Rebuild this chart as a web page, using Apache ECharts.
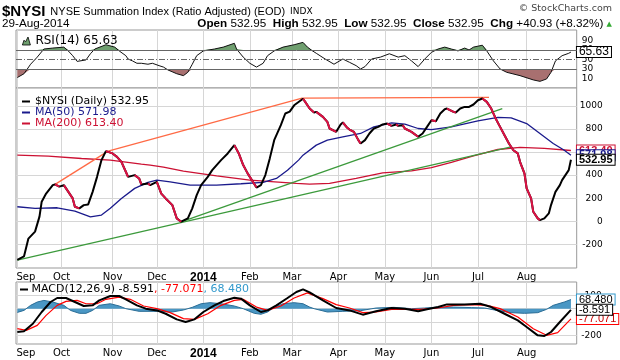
<!DOCTYPE html>
<html><head><meta charset="utf-8">
<script src="https://cdn.jsdelivr.net/npm/echarts@6/dist/echarts.min.js"></script>
<style>html,body{margin:0;padding:0;background:#fff}#c{width:620px;height:360px}</style>
</head><body><div id="c"></div>
<script>
// x = trading-day number since 3-Sep-2013
const monthDays = [0,20,43,63,84,105,124,145,166,187,208,230];
const monthLabels = ['Sep','Oct','Nov','Dec','2014','Feb','Mar','Apr','May','Jun','Jul','Aug'];
const mainTicks = [-200,0,200,400,600,800,1000];
const rsiTicks = [10,30,50,70,90];
const macdTicks = [-200,-100,0,100];

const nysi = [[0,-335],[3,-305],[5,-150],[8,-90],[10,40],[11,170],[13,240],[16,313],[17,320],[19,300],[21,313],[22,285],[25,198],[26,126],[28,112],[30,140],[32,146],[34,255],[36,385],[38,530],[40,608],[43,588],[45,558],[47,515],[49,429],[50,385],[53,400],[55,371],[56,319],[59,328],[60,313],[63,342],[65,240],[67,198],[70,140],[72,25],[74,-4],[77,25],[79,112],[81,227],[83,313],[86,385],[88,443],[90,487],[92,530],[95,588],[98,660],[100,588],[102,487],[104,415],[108,292],[110,313],[112,400],[114,545],[116,703],[119,833],[121,934],[123,950],[125,1005],[129,1062],[130,1035],[132,977],[134,943],[135,948],[138,905],[140,861],[141,804],[144,775],[146,839],[147,856],[149,810],[150,795],[152,775],[154,703],[155,674],[157,703],[159,761],[161,804],[163,818],[165,839],[167,847],[169,827],[171,839],[172,827],[174,833],[175,804],[178,775],[181,732],[183,761],[185,818],[187,876],[189,867],[191,934],[193,971],[194,977],[197,948],[198,943],[200,977],[202,991],[204,991],[206,1012],[208,1049],[210,1064],[212,1035],[214,977],[216,891],[218,818],[220,746],[222,674],[224,616],[226,588],[227,515],[229,415],[230,285],[232,198],[233,82],[235,25],[236,10],[238,25],[240,68],[241,140],[243,255],[245,313],[246,357],[249,443],[250,532.95]];
const ma50 = [[0,126],[8,112],[18,117],[26,88],[33,39],[38,54],[42,112],[47,198],[53,285],[59,337],[63,357],[69,342],[78,313],[90,313],[101,325],[111,337],[117,371],[122,443],[127,530],[129,573],[135,660],[140,703],[147,732],[155,761],[161,818],[169,853],[175,842],[181,804],[187,795],[196,818],[208,870],[217,900],[223,896],[230,847],[236,761],[242,674],[247,616],[250,571.98]];
const ma200 = [[0,573],[14,564],[29,544],[42,530],[56,495],[60,487],[66,469],[75,435],[90,394],[105,357],[126,328],[132,322],[141,328],[153,371],[165,420],[178,437],[187,465],[196,510],[206,567],[217,622],[227,640],[238,631],[250,613.40]];
const resistanceLines = [[[16.5,313],[41,608]],[[41,608],[128.6,1067]],[[128.6,1068],[213,1073]]];
const supportLines = [[[0,-336],[223,645]],[[74.3,-4],[219,977]]];

const rsi = [[0,12],[3,20],[6,40],[9,55],[12,72],[16,74],[21,76],[23,68],[25,58],[27,46],[31,49],[33,62],[35,72],[40,81],[44,76],[46,68],[49,58],[50,51],[52,47],[54,42],[56,42],[59,40],[61,42],[64,37],[66,34],[68,28],[72,20],[75,16],[77,23],[79,40],[81,58],[84,68],[89,72],[93,76],[98,84],[99,72],[102,55],[105,42],[108,34],[111,42],[113,58],[116,68],[120,76],[125,81],[129,86],[131,76],[133,69],[135,63],[139,51],[143,40],[147,51],[150,44],[153,37],[155,30],[157,35],[160,51],[164,55],[168,62],[172,55],[175,58],[178,47],[181,35],[184,51],[187,65],[190,72],[193,76],[196,72],[199,68],[202,74],[204,70],[206,76],[210,80],[212,68],[215,47],[218,30],[221,23],[227,16],[233,7],[236,4],[239,9],[241,23],[243,47],[246,58],[249,63],[250,65.63]];

const macd = [[0,-175],[3,-170],[7,-113],[11,-25],[15,50],[18,80],[22,80],[26,50],[30,20],[34,25],[37,62],[42,95],[46,95],[49,70],[54,25],[58,0],[63,-13],[67,-38],[72,-80],[76,-100],[80,-80],[84,-25],[89,25],[93,57],[98,82],[101,75],[105,25],[110,-25],[113,-13],[117,25],[122,80],[126,125],[129,145],[132,122],[138,62],[144,5],[150,-13],[156,-45],[162,-20],[169,5],[175,0],[181,-20],[185,-5],[190,12],[194,32],[202,32],[209,37],[214,12],[220,-38],[226,-88],[230,-138],[235,-200],[238,-205],[241,-175],[245,-100],[250,-8.591]];
const signal = [[0,-150],[4,-163],[9,-125],[13,-50],[18,25],[22,55],[27,62],[31,37],[36,37],[40,70],[46,87],[51,70],[57,20],[63,0],[69,-30],[75,-75],[80,-80],[86,-38],[92,25],[98,62],[102,70],[108,12],[113,-13],[119,20],[125,80],[131,118],[133,105],[138,75],[144,30],[150,5],[156,-30],[162,-25],[169,-5],[176,-5],[182,-5],[190,5],[197,25],[205,30],[212,25],[218,0],[226,-63],[233,-150],[239,-200],[244,-180],[250,-77.071]];
const histogram = [[0,-28],[3,-13],[6,25],[9,50],[12,62],[16,50],[21,25],[24,-13],[28,-35],[31,-35],[34,-13],[37,25],[42,37],[46,20],[49,0],[55,-20],[63,-20],[70,-25],[75,-10],[79,10],[83,37],[87,45],[92,37],[98,20],[102,0],[107,-35],[110,-42],[113,-25],[116,10],[120,37],[125,45],[129,37],[132,12],[134,0],[140,-25],[147,-20],[155,-15],[162,5],[170,10],[178,0],[184,5],[190,12],[197,12],[205,8],[211,5],[217,-15],[223,-30],[229,-35],[235,-30],[239,-5],[242,25],[247,50],[250,68.48]];

const DJ = 'DejaVu Sans', LS = 'Liberation Sans';
const last = a => a[a.length - 1][1];

function downRuns(pts) {
  const out = [];
  for (let i = 0; i < pts.length - 1; i++) {
    if (pts[i + 1][1] < pts[i][1]) {
      const prev = out[out.length - 1];
      if (!prev || prev[0] !== pts[i][0]) {
        if (prev) out.push([pts[i][0], null]);
        out.push(pts[i]);
      }
      out.push(pts[i + 1]);
    }
  }
  return out;
}

function xAxisCfg(gi, showLabels) {
  return {
    type: 'value', gridIndex: gi, min: -0.6, max: 252.6,
    axisLine: { show: false },
    axisTick: { show: false, customValues: monthDays },
    splitLine: { show: true, lineStyle: { color: '#d6d6d6', width: 1 } },
    axisLabel: {
      show: showLabels, customValues: monthDays, margin: 4,
      fontFamily: DJ, fontSize: 10, color: '#000',
      formatter: v => {
        const i = monthDays.indexOf(v);
        const s = monthLabels[i];
        if (s === '2014') return '{y|2014}';
        if (i === 0) return '{f|' + s + '}';
        return s;
      },
      rich: {
        y: { fontFamily: LS, fontWeight: 'bold', fontSize: 12, color: '#000' },
        f: { fontFamily: DJ, fontSize: 10, color: '#000', padding: [0, 0, 0, 17] }
      }
    }
  };
}
function yLabel(ticks, margin, align) {
  return { customValues: ticks, fontFamily: DJ, fontSize: 9, color: '#000', margin, align, formatter: v => String(v) };
}
function yAxisCfg(gi, min, max, ticks, label, showSplit) {
  return {
    type: 'value', gridIndex: gi, position: 'right', min, max,
    axisLine: { show: false },
    axisTick: { show: false, customValues: ticks },
    splitLine: { show: showSplit, lineStyle: { color: '#d6d6d6', width: 1 } },
    axisLabel: label
  };
}
function endLbl(text, border, color, bold, size) {
  return {
    show: true, distance: 6, formatter: () => text,
    fontFamily: LS, fontSize: size || 11, fontWeight: bold ? 'bold' : 'normal',
    color: color, backgroundColor: '#fff', borderColor: border, borderWidth: 1,
    padding: [0, 2, 0, 2], lineHeight: 10
  };
}
const lineBase = { type: 'line', symbol: 'none', silent: true, animation: false };

const series = [];
// RSI panel
series.push(Object.assign({}, lineBase, {
  name: 'rsiHigh', xAxisIndex: 0, yAxisIndex: 0,
  data: rsi.map(p => [p[0], Math.max(p[1], 70)]),
  lineStyle: { width: 0 }, areaStyle: { origin: 70, color: '#6f9f6f', opacity: 1 }
}));
series.push(Object.assign({}, lineBase, {
  name: 'rsiLow', xAxisIndex: 0, yAxisIndex: 0,
  data: rsi.map(p => [p[0], Math.min(p[1], 30)]),
  lineStyle: { width: 0 }, areaStyle: { origin: 30, color: '#a87070', opacity: 1 }
}));
series.push(Object.assign({}, lineBase, {
  name: 'RSI(14)', xAxisIndex: 0, yAxisIndex: 0, data: rsi, color: '#6f9f6f',
  lineStyle: { color: '#111', width: 1 },
  markLine: {
    silent: true, symbol: 'none', label: { show: false }, animation: false,
    data: [
      { yAxis: 70, lineStyle: { color: '#666', width: 1, type: 'solid' } },
      { yAxis: 30, lineStyle: { color: '#666', width: 1, type: 'solid' } },
      { yAxis: 50, lineStyle: { color: '#666', width: 1, type: [6, 2, 1, 2] } }
    ]
  },
  endLabel: endLbl(last(rsi).toFixed(2), '#000', '#000', false, 12)
}));
// main panel
series.push(Object.assign({}, lineBase, {
  name: 'MA(200)', xAxisIndex: 1, yAxisIndex: 1, data: ma200, color: '#cc1133',
  lineStyle: { color: '#cc1133', width: 1.3 }, endLabel: endLbl(last(ma200).toFixed(2), '#cc1133', '#cc1133', true)
}));
series.push(Object.assign({}, lineBase, {
  name: 'MA(50)', xAxisIndex: 1, yAxisIndex: 1, data: ma50, color: '#1a1a8c',
  lineStyle: { color: '#1a1a8c', width: 1.3 }, endLabel: endLbl(last(ma50).toFixed(2), '#1a1a8c', '#1a1a8c', true)
}));
resistanceLines.forEach((l, i) => series.push(Object.assign({}, lineBase, {
  name: 'res' + i, xAxisIndex: 1, yAxisIndex: 1, data: l, lineStyle: { color: '#ff6a45', width: 1.3 }
})));
supportLines.forEach((l, i) => series.push(Object.assign({}, lineBase, {
  name: 'sup' + i, xAxisIndex: 1, yAxisIndex: 1, data: l, lineStyle: { color: '#3c9a3c', width: 1.3 }
})));
series.push(Object.assign({}, lineBase, {
  name: '$NYSI (Daily)', xAxisIndex: 1, yAxisIndex: 1, data: nysi, color: '#000',
  lineStyle: { color: '#000', width: 2 }, endLabel: endLbl(last(nysi).toFixed(2), '#000', '#000', true)
}));
series.push(Object.assign({}, lineBase, {
  name: 'down', xAxisIndex: 1, yAxisIndex: 1, data: downRuns(nysi), connectNulls: false,
  lineStyle: { color: '#dd1144', width: 2 }
}));
// MACD panel
series.push(Object.assign({}, lineBase, {
  name: 'hist', xAxisIndex: 2, yAxisIndex: 2, data: histogram,
  lineStyle: { color: '#2a6d96', width: 1 }, areaStyle: { origin: 0, color: '#4a97c4', opacity: 1 },
  endLabel: endLbl(last(histogram).toFixed(3), '#3399cc', '#000', false)
}));
series.push(Object.assign({}, lineBase, {
  name: 'signal', xAxisIndex: 2, yAxisIndex: 2, data: signal,
  lineStyle: { color: '#ff0000', width: 1.2 }, endLabel: endLbl(last(signal).toFixed(3), '#ff0000', '#cc0000', false)
}));
series.push(Object.assign({}, lineBase, {
  name: 'macd', xAxisIndex: 2, yAxisIndex: 2, data: macd,
  lineStyle: { color: '#000', width: 2 }, endLabel: endLbl(last(macd).toFixed(3), '#000', '#000', false)
}));

const legendVals = { '$NYSI (Daily)': last(nysi).toFixed(2), 'MA(50)': last(ma50).toFixed(2), 'MA(200)': last(ma200).toFixed(2), 'RSI(14)': last(rsi).toFixed(2) };

const option = {
  animation: false,
  backgroundColor: '#fff',
  grid: [
    { left: 16, right: 43.3, top: 30, height: 58, show: true, borderColor: '#999', borderWidth: 1, backgroundColor: '#fff' },
    { left: 16, right: 43.3, top: 88, height: 180, show: true, borderColor: '#999', borderWidth: 1, backgroundColor: '#fff' },
    { left: 16, right: 43.3, top: 282, height: 62, show: true, borderColor: '#999', borderWidth: 1, backgroundColor: '#fff' }
  ],
  xAxis: [xAxisCfg(0, false), xAxisCfg(1, true), xAxisCfg(2, true)],
  yAxis: [
    yAxisCfg(0, -10, 112, rsiTicks, yLabel(rsiTicks, 5, 'left'), false),
    yAxisCfg(1, -405, 1155, mainTicks, yLabel(mainTicks, 26, 'right'), true),
    yAxisCfg(2, -265, 200, macdTicks, yLabel(macdTicks, 25, 'right'), true)
  ],
  legend: [
    {
      left: 17, top: 91, orient: 'vertical', itemWidth: 8, itemHeight: 2, itemGap: 0, icon: 'rect', selectedMode: false,
      data: [
        { name: '$NYSI (Daily)', textStyle: { color: '#000' } },
        { name: 'MA(50)', textStyle: { color: '#1a1a8c' } },
        { name: 'MA(200)', textStyle: { color: '#cc1133' } }
      ],
      formatter: n => n + ' ' + legendVals[n],
      textStyle: { fontFamily: DJ, fontSize: 11, lineHeight: 11 }
    },
    {
      left: 17, top: 30, itemWidth: 8, itemHeight: 8, selectedMode: false,
      icon: 'path://M0,10 L2,4 L4,6 L7,0 L10,10 Z',
      data: [{ name: 'RSI(14)', itemStyle: { color: '#6f9f6f', borderColor: '#000', borderWidth: 0.8 }, textStyle: { color: '#000' } }],
      formatter: n => n + ' ' + legendVals[n],
      textStyle: { fontFamily: DJ, fontSize: 12, lineHeight: 12 }
    }
  ],
  title: [
    {
      left: 2, top: 3, padding: 0,
      text: '{b|$NYSI} {n|NYSE Summation Index (Ratio Adjusted) (EOD)} {s|INDX}',
      textStyle: { fontWeight: 'normal', rich: {
        b: { fontFamily: LS, fontWeight: 'bold', fontSize: 15, color: '#000' },
        n: { fontFamily: LS, fontWeight: 'normal', fontSize: 11, color: '#000' },
        s: { fontFamily: DJ, fontWeight: 'normal', fontSize: 9, color: '#000' }
      } }
    },
    {
      right: 8, top: 4, padding: 0, text: '\u00a9 StockCharts.com',
      textStyle: { fontFamily: DJ, fontSize: 9.5, fontWeight: 'normal', color: '#444' }
    },
    {
      left: 2, top: 18, padding: 0, text: '29-Aug-2014',
      textStyle: { fontFamily: LS, fontSize: 11.7, fontWeight: 'normal', color: '#000' }
    },
    {
      right: 8, top: 18, padding: 0,
      text: '{b|Open} 532.95  {b|High} 532.95  {b|Low} 532.95  {b|Close} 532.95  {b|Chg} +40.93 (+8.32%) {g|\u25b2}',
      textStyle: { fontFamily: LS, fontSize: 11.7, fontWeight: 'normal', color: '#000', rich: {
        b: { fontFamily: LS, fontWeight: 'bold', fontSize: 11.7, color: '#000' },
        g: { fontFamily: DJ, fontWeight: 'normal', fontSize: 7, color: '#33aa33' }
      } }
    },
    {
      left: 20, top: 284, padding: 0,
      text: '{m|}{k| MACD(12,26,9) ' + last(macd).toFixed(3) + '}{r|, ' + last(signal).toFixed(3) + '}{h|, ' + last(histogram).toFixed(3) + '}',
      textStyle: { fontWeight: 'normal', rich: {
        m: { width: 8, height: 2, backgroundColor: '#000' },
        k: { fontFamily: DJ, fontWeight: 'normal', fontSize: 11, color: '#000' },
        r: { fontFamily: DJ, fontWeight: 'normal', fontSize: 11, color: '#ff0000' },
        h: { fontFamily: DJ, fontWeight: 'normal', fontSize: 11, color: '#3399cc' }
      } }
    }
  ],
  series
};
const chart = echarts.init(document.getElementById('c'), null, { renderer: 'canvas' });
chart.setOption(option);
</script></body></html>
